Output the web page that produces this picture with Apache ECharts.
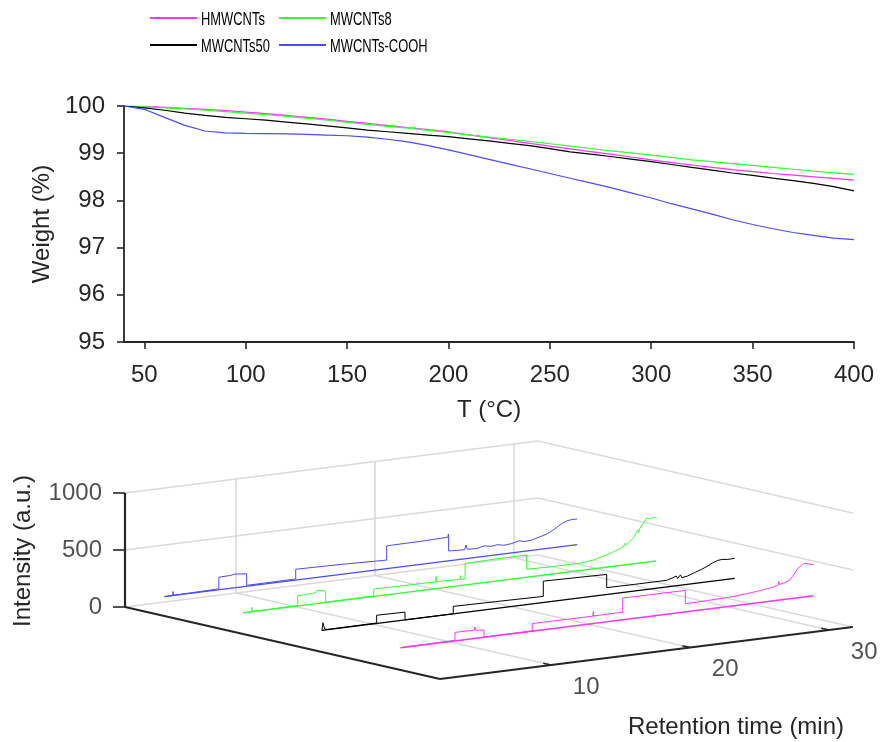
<!DOCTYPE html>
<html><head><meta charset="utf-8">
<script src="https://cdn.jsdelivr.net/npm/echarts@6/dist/echarts.min.js"></script>
<style>html,body{margin:0;padding:0;background:#fff}#c{width:883px;height:742px}</style>
</head><body><div id="c"></div>
<script>
// ---------------- DATA: TGA (top) ----------------
const seriesNames = ['HMWCNTs', 'MWCNTs8', 'MWCNTs50', 'MWCNTs-COOH'];
const temps = [40,50,60,70,80,90,100,110,120,130,140,150,160,170,180,190,200,210,220,230,240,250,260,270,280,290,300,310,320,330,340,350,360,370,380,390,400];
const wHMWCNTs = [100.00,99.99,99.97,99.95,99.93,99.90,99.87,99.84,99.80,99.76,99.72,99.675,99.63,99.585,99.54,99.50,99.45,99.39,99.33,99.27,99.21,99.15,99.09,99.035,98.98,98.92,98.86,98.80,98.75,98.70,98.65,98.61,98.57,98.535,98.50,98.465,98.43];
const wMWCNTs8 = [100.00,99.98,99.96,99.94,99.91,99.88,99.85,99.815,99.78,99.74,99.70,99.655,99.61,99.57,99.53,99.485,99.44,99.39,99.34,99.295,99.25,99.20,99.15,99.10,99.05,99.005,98.96,98.91,98.86,98.82,98.78,98.74,98.70,98.66,98.62,98.585,98.55];
const wMWCNTs50 = [100.00,99.96,99.91,99.85,99.80,99.76,99.73,99.70,99.66,99.62,99.58,99.535,99.49,99.455,99.42,99.385,99.35,99.305,99.26,99.21,99.16,99.095,99.03,98.98,98.93,98.875,98.82,98.76,98.70,98.64,98.58,98.53,98.47,98.42,98.36,98.29,98.20];
const wCOOH = [100.00,99.93,99.76,99.59,99.47,99.43,99.42,99.415,99.41,99.40,99.385,99.37,99.34,99.295,99.24,99.16,99.07,98.97,98.87,98.77,98.67,98.57,98.47,98.37,98.27,98.16,98.05,97.93,97.82,97.71,97.59,97.49,97.40,97.32,97.26,97.20,97.17];
const tempTicks = [50,100,150,200,250,300,350,400];

// ---------------- DATA: chromatograms (bottom, 3D) ----------------
const rtTicks = [10, 20, 30];
const intTicks = [0, 500, 1000];
const rtRange = [2.0, 31.7];
const depthRange = [0.5, 4.5];
const depthOrder = {'MWCNTs-COOH': 1, 'MWCNTs8': 2, 'MWCNTs50': 3, 'HMWCNTs': 4};
const baseLevels = {'MWCNTs-COOH': 170, 'MWCNTs8': 185, 'MWCNTs50': 190, 'HMWCNTs': 195};
const chromCOOH = [[2.0,170],[2.6,172],[2.62,205],[2.66,172],[5.92,178],[5.92,280],[6.8,283],[7.0,290],[7.05,283],[7.92,280],[7.92,178],[11.45,180],[11.45,265],[14.5,258],[14.56,272],[14.62,258],[17.99,245],[17.99,370],[20.5,372],[22.4,378],[22.43,405],[22.45,378],[22.45,256],[23.6,250],[23.7,290],[23.8,250],[24.5,247],[25.0,262],[25.1,245],[25.5,250],[26.0,258],[26.4,245],[27.0,252],[27.5,268],[27.6,253],[27.94,255],[28.5,262],[29.0,280],[29.5,296],[29.9,320],[30.22,343],[30.6,372],[30.94,390],[31.3,396],[31.7,395]];
const chromMWCNTs8 = [[2.0,185],[2.58,187],[2.62,225],[2.66,187],[5.93,190],[5.93,275],[7.0,280],[7.25,282],[7.3,300],[7.35,284],[7.94,287],[7.94,188],[11.4,190],[11.4,250],[13.5,247],[15.85,245],[15.88,290],[15.92,246],[17.6,240],[17.63,272],[17.66,240],[17.97,238],[17.97,375],[20.0,378],[22.4,381],[22.4,255],[24.0,250],[26.24,249],[27.2,262],[28.16,293],[28.6,310],[29.12,336],[29.4,350],[29.45,372],[29.5,355],[29.6,362],[30.05,410],[30.3,450],[30.4,478],[30.45,455],[30.55,490],[30.8,530],[31.04,571],[31.3,560],[31.5,570],[31.76,559]];
const chromMWCNTs50 = [[2.0,190],[2.08,255],[2.2,198],[2.4,192],[5.94,194],[5.94,262],[7.98,258],[7.98,190],[11.45,190],[11.45,255],[14.5,250],[17.93,243],[17.93,377],[20.0,372],[22.49,366],[22.49,250],[24.5,248],[26.8,248],[27.2,262],[27.3,250],[27.5,275],[27.6,252],[27.8,280],[27.9,255],[28.3,262],[28.8,284],[29.3,305],[29.76,328],[30.1,350],[30.48,366],[30.8,370],[31.2,364],[31.7,366]];
const chromHMWCNTs = [[2.0,195],[2.4,197],[2.5,212],[2.6,197],[5.91,200],[5.91,270],[7.3,268],[7.35,295],[7.4,266],[8.0,258],[8.0,196],[11.47,198],[11.47,262],[14.0,261],[15.83,260],[15.86,300],[15.9,261],[17.98,262],[17.98,386],[20.0,385],[22.48,384],[22.48,267],[24.0,270],[25.93,277],[27.0,288],[27.86,300],[28.3,308],[28.81,315],[29.17,330],[29.2,359],[29.25,332],[29.6,340],[30.01,361],[30.2,390],[30.4,420],[30.6,455],[30.73,467],[30.9,480],[31.1,492],[31.2,505],[31.3,480],[31.45,477],[31.6,470],[31.7,465]];

// ---------------- STYLE ----------------
const AX = '#262626', GRIDC = '#dadada';
const FONT = '"Liberation Sans", Arial, Helvetica, sans-serif';
const colors = {'HMWCNTs': '#ff33ff', 'MWCNTs8': '#33ff33', 'MWCNTs50': '#000000', 'MWCNTs-COOH': '#4b4bff'};
const tgaData = {'HMWCNTs': wHMWCNTs, 'MWCNTs8': wMWCNTs8, 'MWCNTs50': wMWCNTs50, 'MWCNTs-COOH': wCOOH};
const chromData = {'HMWCNTs': chromHMWCNTs, 'MWCNTs8': chromMWCNTs8, 'MWCNTs50': chromMWCNTs50, 'MWCNTs-COOH': chromCOOH};

// oblique 3D view (orthographic projection onto screen plane)
const VIEW = {ox: 125, oy: 607, tx: 13.9, ty: -1.75, dx: 78.75, dy: 18, iz: -0.114};
function proj(t, d, I) {
  return [VIEW.ox + (t - rtRange[0]) * VIEW.tx + (d - depthRange[0]) * VIEW.dx,
          VIEW.oy + (t - rtRange[0]) * VIEW.ty + (d - depthRange[0]) * VIEW.dy + I * VIEW.iz];
}
const iMax = intTicks[intTicks.length - 1];
const t0 = rtRange[0], t1 = rtRange[1], d0 = depthRange[0], d1 = depthRange[1];

// gridlines
const gridSegs = [];
intTicks.forEach(I => {
  gridSegs.push({coords: [proj(t0, d0, I), proj(t1, d0, I)]});
  gridSegs.push({coords: [proj(t1, d0, I), proj(t1, d1, I)]});
});
rtTicks.forEach(t => {
  gridSegs.push({coords: [proj(t, d0, 0), proj(t, d0, iMax)]});
  gridSegs.push({coords: [proj(t, d0, 0), proj(t, d1, 0)]});
});
// axes
const axisSegs = [
  {coords: [proj(t0, d0, 0), proj(t0, d0, iMax)]},
  {coords: [proj(t0, d0, 0), proj(t0, d1, 0)]},
  {coords: [proj(t0, d1, 0), proj(t1, d1, 0)]}
];
const tickSegs = [];
intTicks.forEach(I => { const p = proj(t0, d0, I); tickSegs.push({coords: [p, [p[0] - 12, p[1]]]}); });
rtTicks.forEach(t => { tickSegs.push({coords: [proj(t, d1, 0), proj(t, d1 - 0.1, 0)]}); });

const series = [];
// top TGA lines
seriesNames.forEach(n => {
  series.push({
    name: n, type: 'line', xAxisIndex: 0, yAxisIndex: 0, symbol: 'none', silent: true,
    lineStyle: {color: colors[n], width: 1.2}, itemStyle: {color: colors[n]},
    data: temps.map((T, i) => [T, tgaData[n][i]]), z: 3
  });
});
// 3D grid & axes
series.push({type: 'lines', coordinateSystem: 'cartesian2d', xAxisIndex: 1, yAxisIndex: 1, silent: true,
  lineStyle: {color: GRIDC, width: 1.6, opacity: 1}, data: gridSegs, z: 1});
series.push({type: 'lines', coordinateSystem: 'cartesian2d', xAxisIndex: 1, yAxisIndex: 1, silent: true,
  lineStyle: {color: AX, width: 2.2, opacity: 1}, data: axisSegs, z: 4});
series.push({type: 'lines', coordinateSystem: 'cartesian2d', xAxisIndex: 1, yAxisIndex: 1, silent: true,
  lineStyle: {color: AX, width: 1.6, opacity: 1}, data: tickSegs, z: 4});
// chromatograms back to front
['MWCNTs-COOH', 'MWCNTs8', 'MWCNTs50', 'HMWCNTs'].forEach((n, k) => {
  const d = depthOrder[n];
  series.push({
    name: n, type: 'line', xAxisIndex: 1, yAxisIndex: 1, symbol: 'none', silent: true,
    lineStyle: {color: colors[n], width: 1.4}, itemStyle: {color: colors[n]},
    data: [proj(t0, d, baseLevels[n]), proj(t1, d, baseLevels[n])], z: 2 + k * 0.1
  });
  series.push({
    name: n, type: 'line', xAxisIndex: 1, yAxisIndex: 1, symbol: 'none', silent: true,
    lineStyle: {color: colors[n], width: 1}, itemStyle: {color: colors[n]},
    data: chromData[n].map(p => proj(p[0], d, p[1])), z: 2 + k * 0.1
  });
});
// tick labels of 3D axes
series.push({type: 'scatter', xAxisIndex: 1, yAxisIndex: 1, symbolSize: 0, silent: true,
  data: intTicks.map(I => ({value: proj(t0, d0, I), name: String(I)})),
  label: {show: true, position: 'left', distance: 23, formatter: p => p.name, color: AX, fontSize: 24, fontFamily: FONT}, z: 5});
series.push({type: 'scatter', xAxisIndex: 1, yAxisIndex: 1, symbolSize: 0, silent: true,
  data: rtTicks.map(t => ({value: proj(t, d1, 0), name: String(t)})),
  label: {show: true, position: 'inside', offset: [35, 22], formatter: p => p.name, color: AX, fontSize: 24, fontFamily: FONT}, z: 5});

// legend: one component per entry (2 x 2 layout), labels drawn as condensed text
const legendPos = {'HMWCNTs': [150, 18], 'MWCNTs8': [279, 18], 'MWCNTs50': [150, 45], 'MWCNTs-COOH': [279, 45]};
const legends = seriesNames.map(n => ({
  left: legendPos[n][0], top: legendPos[n][1] - 1, padding: 0, icon: 'rect', itemWidth: 47, itemHeight: 2,
  data: [n], formatter: () => '', selectedMode: false, textStyle: {fontSize: 1}
}));
const legendTexts = seriesNames.map(n => ({
  type: 'text', x: legendPos[n][0] + 51, y: legendPos[n][1] + 1.5, scaleX: 0.68, silent: true,
  style: {text: n, fontSize: 19, fill: '#000', fontFamily: FONT, align: 'left', verticalAlign: 'middle'}
}));

const option = {
  animation: false,
  backgroundColor: '#fff',
  textStyle: {fontFamily: FONT},
  legend: legends,
  grid: [
    {left: 124, top: 106, width: 730, height: 236, outerBoundsMode: 'none'},
    {left: 0, top: 0, width: 883, height: 742, outerBoundsMode: 'none'}
  ],
  xAxis: [
    {type: 'value', gridIndex: 0, min: 40, max: 400,
     name: 'T (°C)', nameLocation: 'middle', nameGap: 56, nameTextStyle: {fontSize: 24, color: AX, fontFamily: FONT},
     axisLine: {show: true, lineStyle: {color: AX, width: 1.8}},
     axisTick: {show: true, inside: false, length: 7, customValues: tempTicks, lineStyle: {color: AX, width: 1.6}},
     axisLabel: {customValues: tempTicks, fontSize: 24, color: AX, margin: 21, fontFamily: FONT},
     splitLine: {show: false}},
    {type: 'value', gridIndex: 1, min: 0, max: 883, show: false}
  ],
  yAxis: [
    {type: 'value', gridIndex: 0, min: 95, max: 100, interval: 1,
     name: 'Weight (%)', nameLocation: 'middle', nameGap: 70, nameTextStyle: {fontSize: 24, color: AX, fontFamily: FONT},
     axisLine: {show: true, lineStyle: {color: AX, width: 1.8}},
     axisTick: {show: true, inside: false, length: 7, lineStyle: {color: AX, width: 1.6}},
     axisLabel: {fontSize: 24, color: AX, margin: 19, fontFamily: FONT},
     splitLine: {show: false}},
    {type: 'value', gridIndex: 1, min: 0, max: 742, inverse: true, show: false}
  ],
  graphic: [
    {type: 'text', x: 23, y: 551, rotation: Math.PI / 2, silent: true,
     style: {text: 'Intensity (a.u.)', fontSize: 24, fill: AX, fontFamily: FONT, align: 'center', verticalAlign: 'middle'}},
    {type: 'text', x: 736, y: 727, silent: true,
     style: {text: 'Retention time (min)', fontSize: 24, fill: AX, fontFamily: FONT, align: 'center', verticalAlign: 'middle'}}
  ].concat(legendTexts),
  series: series
};
const chart = echarts.init(document.getElementById('c'));
chart.setOption(option);
</script>
</body></html>
